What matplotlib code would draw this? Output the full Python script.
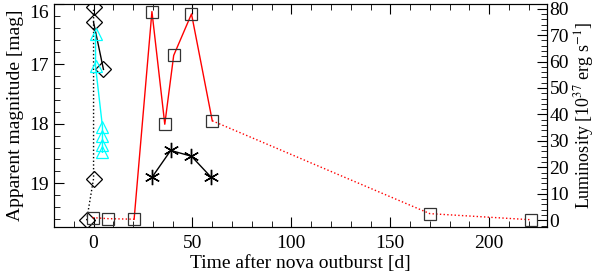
import matplotlib
matplotlib.use('Agg')

import matplotlib.pyplot as plt
from matplotlib.ticker import MultipleLocator
from matplotlib.transforms import ScaledTranslation

# optical magnitudes (black diamonds)
diam_day = [-3.5, 0.0, 0.0, 0.0, 5.0]
diam_mag = [19.62, 18.92, 16.30, 16.05, 17.09]

# cyan triangles
tri_day = [1.0, 1.0, 4.5, 4.5, 4.5, 4.5]
tri_mag = [16.50, 17.04, 18.05, 18.20, 18.35, 18.48]

# luminosity (red squares)
sq_day = [-0.5, 7.5, 20.5, 29.5, 36.0, 40.5, 49.5, 60.0, 170.0, 221.0]
sq_lum = [1.0, 0.6, 0.4, 78.9, 36.3, 62.3, 78.0, 37.6, 2.5, 0.2]

# black asterisks
ast_day = [29.5, 39.0, 49.5, 59.5]
ast_lum = [16.2, 26.4, 24.2, 16.2]

plt.rcParams['font.family'] = ['Liberation Serif', 'DejaVu Serif']
plt.rcParams['mathtext.fontset'] = 'stix'

fig = plt.figure(figsize=(6, 2.75), dpi=100)
ax = fig.add_axes([0.09, 0.175, 0.821, 0.809])
ax2 = ax.twinx()

# magnitudes
ax.plot(diam_day[:4], diam_mag[:4], color='black', ls=':', lw=1)
ax.plot(diam_day[2:5:2], diam_mag[2:5:2], color='black', lw=1)
ax.plot(diam_day, diam_mag, ls='none', marker='D', ms=8, mfc='none', mec='black', mew=0.9)
ax.plot(tri_day, tri_mag, color='cyan', lw=1, marker='^', ms=8, mfc='none', mec='cyan', mew=0.9)

# luminosity
ax2.plot(sq_day[:3], sq_lum[:3], color='red', ls=':', lw=1)
ax2.plot(sq_day[2:8], sq_lum[2:8], color='red', lw=1)
ax2.plot(sq_day[7:], sq_lum[7:], color='red', ls=':', lw=1)
ax2.plot(sq_day, sq_lum, ls='none', marker='s', ms=9, mfc='none', mec='#333333', mew=0.9)
ax2.plot(ast_day, ast_lum, color='black', lw=1, marker=(6, 2, 0), ms=11, mew=1)

ax.set_xlim(-20, 229)
ax.set_ylim(19.73, 16.0)
ax2.set_ylim(-2.5, 81.6)

ax.xaxis.set_major_locator(MultipleLocator(50))
ax.xaxis.set_minor_locator(MultipleLocator(10))
ax.yaxis.set_major_locator(MultipleLocator(1))
ax.yaxis.set_minor_locator(MultipleLocator(0.2))
ax2.yaxis.set_major_locator(MultipleLocator(10))
ax2.yaxis.set_minor_locator(MultipleLocator(2))

ax.tick_params(which='both', direction='in', top=True, labelsize=14)
ax.tick_params(which='major', length=7)
ax.tick_params(which='minor', length=4)
ax.tick_params(axis='x', pad=6)
ax2.tick_params(which='both', direction='in', labelsize=14, pad=2)
ax2.tick_params(which='major', length=7)
ax2.tick_params(which='minor', length=4)

ax.set_xlabel("Time after nova outburst [d]", fontsize=14, labelpad=2)
ax.set_ylabel("Apparent magnitude [mag]", fontsize=14, labelpad=4)
ax2.set_ylabel(r"Luminosity [10$^{37}$ erg s$^{-1}$]", fontsize=13, labelpad=2)

# keep the top "16" inside the figure
fig.canvas.draw()
for t in ax.get_yticklabels():
    if t.get_text() == '16':
        t.set_transform(t.get_transform() + ScaledTranslation(0, -5 / 72, fig.dpi_scale_trans))

fig.savefig('out.png', dpi=100)
